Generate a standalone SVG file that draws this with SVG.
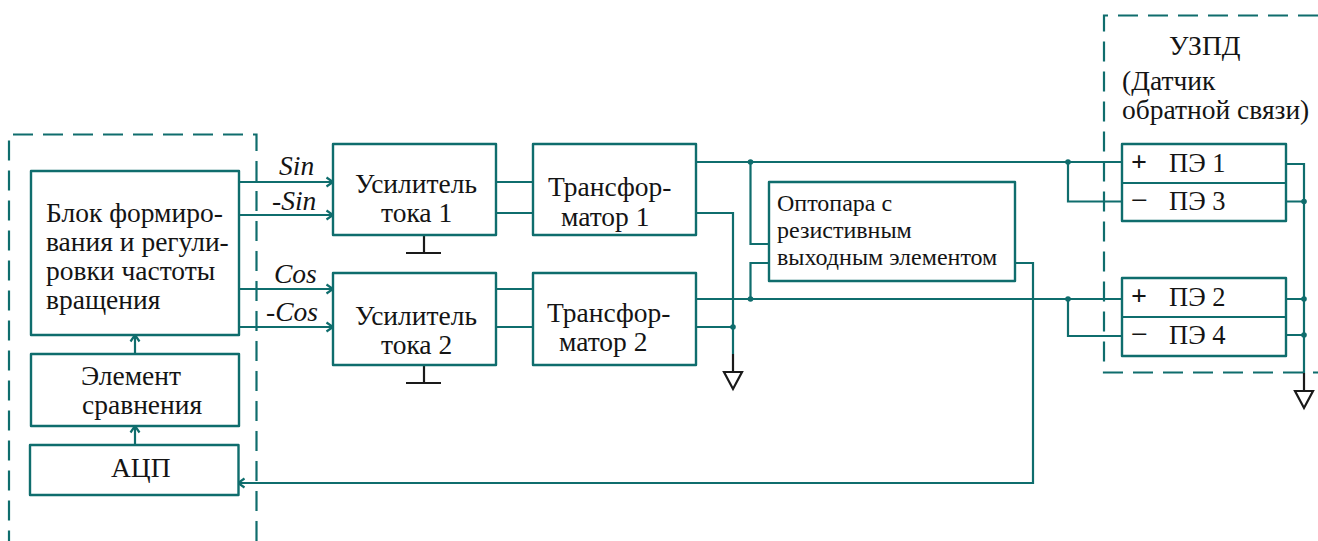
<svg xmlns="http://www.w3.org/2000/svg" width="1318" height="541" viewBox="0 0 1318 541">
<style>
.b{fill:#fff;stroke:#0f6d6d;stroke-width:2.4;stroke-linejoin:round}
.c{fill:none;stroke:#0f6d6d;stroke-width:2.2}
.d{fill:none;stroke:#0f6d6d;stroke-width:2.2;stroke-dasharray:20 10}
.g{fill:none;stroke:#1a1a1a;stroke-width:2.2}
.j{fill:#0f6d6d}
text{font-family:"Liberation Serif","Times New Roman",serif;font-size:27.5px;fill:#141414}
.i{font-style:italic}
.s{font-size:24px}
.p{font-weight:bold;font-size:28px}
.m{font-size:30px}
.e{font-size:26.500px}
</style>
<defs>
<marker id="a" markerUnits="userSpaceOnUse" markerWidth="10" markerHeight="12" refX="8" refY="6" orient="auto"><path d="M1.5 1.5L8 6L1.5 10.500" fill="none" stroke="#0f6d6d" stroke-width="2.200"/></marker>
</defs>
<g id="frames">
<path class="d" d="M256.500 541V134.500H9V541"/>
<path class="d" d="M1318 15.500H1104V372.500H1318"/>
</g>
<g id="connectors">
<path class="c" marker-end="url(#a)" d="M239 182H333"/>
<path class="c" marker-end="url(#a)" d="M239 215H333"/>
<path class="c" marker-end="url(#a)" d="M239 289H333"/>
<path class="c" marker-end="url(#a)" d="M239 327H333"/>
<path class="c" marker-end="url(#a)" d="M135 354V335"/>
<path class="c" marker-end="url(#a)" d="M135 445V426"/>
<path class="c" d="M496 182H533M496 213H533M496 289H533M496 327H533"/>
<path class="c" d="M696 162H1122M696 299H1122"/>
<path class="c" d="M696 213H733V354M696 327H733"/>
<path class="c" d="M750.500 162V244H769M769 263H750.500V299"/>
<path class="c" marker-end="url(#a)" d="M1015 263H1033V483H238"/>
<path class="c" d="M1068 162V201.500H1122M1068 299V336H1122"/>
<path class="c" d="M1286 164H1304V373M1286 201.500H1304M1286 299H1304M1286 335H1304"/>
<circle class="j" cx="750.500" cy="162" r="2.800"/>
<circle class="j" cx="750.500" cy="299" r="2.800"/>
<circle class="j" cx="733" cy="327" r="2.800"/>
<circle class="j" cx="1068" cy="162" r="2.800"/>
<circle class="j" cx="1068" cy="299" r="2.800"/>
<circle class="j" cx="1304" cy="201.500" r="2.800"/>
<circle class="j" cx="1304" cy="299" r="2.800"/>
<circle class="j" cx="1304" cy="335" r="2.800"/>
<path class="g" d="M424 235V253M406 253H441M424 365V383M406 383H441"/>
<path class="g" d="M733 354V372M724 372H742L733 389Z"/>
<path class="g" d="M1304 373V391M1295 391H1313L1304 408Z"/>
</g>
<g id="labels">
<text class="i" x="279" y="175">Sin</text>
<text class="i" x="272" y="210">-Sin</text>
<text class="i" x="274" y="283">Cos</text>
<text class="i" x="266" y="321">-Cos</text>
</g>
<g id="block">
<rect class="b" x="31" y="171" width="208" height="164"/>
<text x="46" y="222">Блок формиро-</text>
<text x="46" y="251">вания и регули-</text>
<text x="46" y="280">ровки частоты</text>
<text x="46" y="309">вращения</text>
</g>
<g id="compare">
<rect class="b" x="31" y="354" width="208" height="72"/>
<text x="81" y="385">Элемент</text>
<text x="82" y="414">сравнения</text>
</g>
<g id="adc">
<rect class="b" x="30" y="445" width="208.500" height="50"/>
<text x="111" y="477">АЦП</text>
</g>
<g id="amp1">
<rect class="b" x="333" y="144" width="163" height="91"/>
<text x="355" y="193">Усилитель</text>
<text x="381" y="222">тока 1</text>
</g>
<g id="amp2">
<rect class="b" x="333" y="273" width="163" height="92"/>
<text x="355" y="325">Усилитель</text>
<text x="381" y="354">тока 2</text>
</g>
<g id="trans1">
<rect class="b" x="533" y="144" width="163" height="91"/>
<text x="548" y="196">Трансфор-</text>
<text x="561" y="226">матор 1</text>
</g>
<g id="trans2">
<rect class="b" x="533" y="273" width="163" height="92"/>
<text x="547" y="322">Трансфор-</text>
<text x="559" y="351">матор 2</text>
</g>
<g id="opto">
<rect class="b" x="769" y="182" width="246" height="99"/>
<text class="s" x="777" y="211">Оптопара с</text>
<text class="s" x="777" y="238">резистивным</text>
<text class="s" x="777" y="265">выходным элементом</text>
</g>
<g id="uzpd">
<text x="1169" y="55">УЗПД</text>
<text x="1122" y="90">(Датчик</text>
<text x="1122" y="119">обратной связи)</text>
</g>
<g id="pe13">
<rect class="b" x="1122" y="144" width="164" height="77"/>
<path class="c" d="M1122 183H1286"/>
<text class="p" x="1131" y="171">+</text>
<text class="e" x="1169" y="172">ПЭ 1</text>
<text class="m" x="1131" y="210">−</text>
<text class="e" x="1169" y="210">ПЭ 3</text>
</g>
<g id="pe24">
<rect class="b" x="1122" y="278" width="164" height="78"/>
<path class="c" d="M1122 317H1286"/>
<text class="p" x="1131" y="305">+</text>
<text class="e" x="1169" y="306">ПЭ 2</text>
<text class="m" x="1131" y="344">−</text>
<text class="e" x="1169" y="344">ПЭ 4</text>
</g>
</svg>
